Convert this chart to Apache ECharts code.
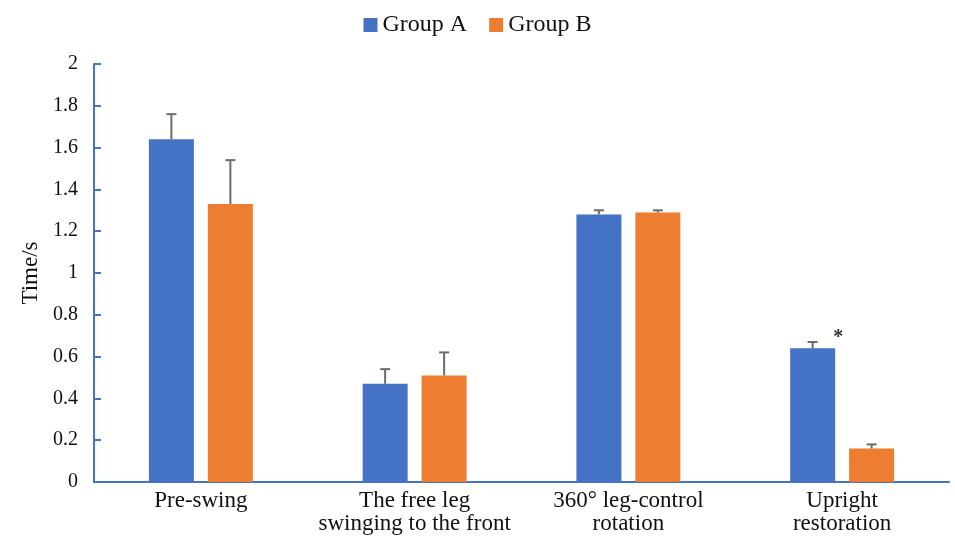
<!DOCTYPE html>
<html>
<head>
<meta charset="UTF-8">
<title>Time per phase</title>
<script src="https://cdn.jsdelivr.net/npm/echarts@6.0.0/dist/echarts.min.js"></script>
<style>
  html, body { margin: 0; padding: 0; background: #fff; }
  #chart { width: 955px; height: 538px; }
</style>
</head>
<body>
<div id="chart"></div>
<script>
// data
const categories = ['Pre-swing', 'The free leg\nswinging to the front', '360° leg-control\nrotation', 'Upright\nrestoration'];
const groupA = [1.64, 0.47, 1.28, 0.64];
const groupB = [1.33, 0.51, 1.29, 0.16];
const errA = [0.12, 0.07, 0.02, 0.03];
const errB = [0.21, 0.11, 0.01, 0.02];
const sigA = ['', '', '', '*'];

const blue = '#4472C4';
const orange = '#ED7D31';
const barW = 45;
const half = 29.5; // half distance between the two bar centres

// upper error bar + optional significance mark
function errorSeries(name, vals, errs, shift, marks) {
    return {
        type: 'custom',
        name: name + ' err',
        z: 5,
        data: vals.map((v, i) => [i, v, v + errs[i]]),
        renderItem: (params, api) => {
            const i = api.value(0);
            const lo = api.coord([i, api.value(1)]);
            const hi = api.coord([i, api.value(2)]);
            const x = lo[0] + shift;
            const style = { stroke: '#6b6b6b', lineWidth: 2 };
            const kids = [
                { type: 'line', shape: { x1: x, y1: lo[1], x2: x, y2: hi[1] }, style: style },
                { type: 'line', shape: { x1: x - 5, y1: hi[1], x2: x + 5, y2: hi[1] }, style: style }
            ];
            if (marks && marks[i]) {
                kids.push({
                    type: 'text',
                    style: {
                        text: marks[i], x: x + barW / 2 + 3, y: hi[1] - 4,
                        font: 'bold 20px "Liberation Serif"', fill: '#333',
                        align: 'center', verticalAlign: 'middle'
                    }
                });
            }
            return { type: 'group', children: kids };
        }
    };
}

const chart = echarts.init(document.getElementById('chart'));
chart.setOption({
    animation: false,
    textStyle: { fontFamily: 'Liberation Serif' },
    legend: {
        data: ['Group A', 'Group B'],
        top: 8,
        left: 'center',
        itemWidth: 14,
        itemHeight: 14,
        itemGap: 22,
        icon: 'rect',
        textStyle: { fontSize: 24, color: '#111', fontFamily: 'Liberation Serif' }
    },
    grid: { left: 94, right: 6, top: 64, bottom: 56, containLabel: false },
    xAxis: {
        type: 'category',
        data: categories,
        boundaryGap: true,
        axisLine: { lineStyle: { color: blue, width: 2 } },
        axisTick: { inside: true, length: 7, lineStyle: { color: blue, width: 2 } },
        axisLabel: {
            fontSize: 23, color: '#111', margin: 7, lineHeight: 23,
            fontFamily: 'Liberation Serif', interval: 0
        }
    },
    yAxis: {
        type: 'value',
        min: 0,
        max: 2,
        interval: 0.2,
        name: 'Time/s',
        nameLocation: 'middle',
        nameRotate: 90,
        nameGap: 52,
        nameTextStyle: { fontSize: 23, color: '#111', fontFamily: 'Liberation Serif' },
        axisLine: { show: true, lineStyle: { color: blue, width: 2 } },
        axisTick: { show: true, inside: true, length: 7, lineStyle: { color: blue, width: 2 } },
        splitLine: { show: false },
        axisLabel: {
            fontSize: 20, color: '#111', margin: 16,
            fontFamily: 'Liberation Serif',
            formatter: v => String(Math.round(v * 10) / 10)
        }
    },
    series: [
        { type: 'bar', name: 'Group A', data: groupA, barWidth: barW, barGap: '31%', itemStyle: { color: blue } },
        { type: 'bar', name: 'Group B', data: groupB, barWidth: barW, barGap: '31%', itemStyle: { color: orange } },
        errorSeries('Group A', groupA, errA, -half, sigA),
        errorSeries('Group B', groupB, errB, half, null)
    ]
});
</script>
</body>
</html>
